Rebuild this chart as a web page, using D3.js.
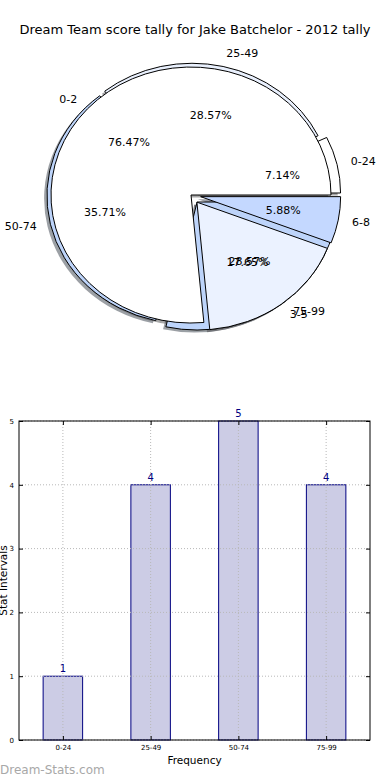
<!DOCTYPE html>
<html>
<head>
<meta charset="utf-8">
<script src="https://cdn.jsdelivr.net/npm/d3@7"></script>
<style>
  body { margin: 0; background: #fff; }
  svg { display: block; font-family: "DejaVu Sans", sans-serif; }
</style>
</head>
<body>
<div id="chart"></div>
<script>
const chartTitle = "Dream Team score tally for Jake Batchelor - 2012 tally";

// outer pie: score bands
const scoreBands = ["0-24", "25-49", "50-74", "75-99"];
const scoreCounts = [1, 4, 5, 4];
const scoreExplode = [0.07, 0.03, 0.03, 0.07];
const scoreColours = ["#ffffff", "#e9f0fd", "#bdd4fa", "#bdd4fa"];

// second pie drawn on top
const smallBands = ["0-2", "3-5", "6-8"];
const smallCounts = [13, 3, 1];
const smallExplode = [0, 0.07, 0.07];
const smallColours = ["#ffffff", "#ebf2ff", "#c4d8ff"];

// histogram
const barBands = ["0-24", "25-49", "50-74", "75-99"];
const barCounts = [1, 4, 5, 4];
const yTicks = [0, 1, 2, 3, 4, 5];

const W = 390, H = 780;
const cx = 191, cy = 195, rx = 140, ry = 128;

const svg = d3.select("#chart").append("svg")
  .attr("width", W).attr("height", H);

svg.append("text")
  .attr("x", 195).attr("y", 30)
  .attr("text-anchor", "middle").attr("dominant-baseline", "middle")
  .style("font-size", "13px").attr("fill", "#000")
  .text(chartTitle);

const defs = svg.append("defs");
defs.append("filter").attr("id", "soft")
  .append("feGaussianBlur").attr("stdDeviation", 0.7);

const unitArc = d3.arc().innerRadius(0).outerRadius(1);

function pieSlices(names, counts, explode, colours) {
  // matplotlib style: start at 3 o'clock, counter-clockwise
  const arcs = d3.pie().sort(null)
    .startAngle(Math.PI / 2)
    .endAngle(Math.PI / 2 - 2 * Math.PI)(counts);
  const total = d3.sum(counts);
  return arcs.map((a, i) => {
    const mid = (a.startAngle + a.endAngle) / 2;
    const ux = Math.sin(mid), uy = -Math.cos(mid);
    return {
      arc: a,
      name: names[i],
      pct: (100 * counts[i] / total).toFixed(2) + "%",
      colour: colours[i],
      ux, uy,
      ox: cx + explode[i] * rx * ux,
      oy: cy + explode[i] * ry * uy,
    };
  });
}

const pieA = pieSlices(scoreBands, scoreCounts, scoreExplode, scoreColours);
const pieB = pieSlices(smallBands, smallCounts, smallExplode, smallColours);

const shadowLayer = svg.append("g").attr("filter", "url(#soft)");
[...pieA, ...pieB].forEach((s) => {
  const c = d3.rgb(s.colour);
  shadowLayer.append("path")
    .attr("transform", `translate(${s.ox - 0.02 * rx},${s.oy + 0.02 * ry}) scale(${rx},${ry})`)
    .attr("d", unitArc(s.arc))
    .attr("fill", d3.rgb(c.r * 0.3, c.g * 0.3, c.b * 0.3))
    .attr("opacity", 0.5);
});

function drawWedges(slices) {
  const g = svg.append("g");
  g.selectAll("path").data(slices).join("path")
    .attr("transform", (d) => `translate(${d.ox},${d.oy}) scale(${rx},${ry})`)
    .attr("d", (d) => unitArc(d.arc))
    .attr("fill", (d) => d.colour)
    .attr("stroke", "#000")
    .attr("stroke-width", 1)
    .attr("stroke-linejoin", "miter")
    .attr("vector-effect", "non-scaling-stroke");
}
drawWedges(pieA);
drawWedges(pieB);

function drawPieText(slices) {
  const g = svg.append("g").style("font-size", "11px").attr("fill", "#000");
  slices.forEach((d) => {
    const lx = d.ox + 1.1 * rx * d.ux;
    g.append("text")
      .attr("x", lx).attr("y", d.oy + 1.1 * ry * d.uy)
      .attr("text-anchor", lx > cx ? "start" : "end")
      .attr("dominant-baseline", "middle")
      .text(d.name);
    g.append("text")
      .attr("x", d.ox + 0.6 * rx * d.ux).attr("y", d.oy + 0.6 * ry * d.uy)
      .attr("text-anchor", "middle")
      .attr("dominant-baseline", "middle")
      .text(d.pct);
  });
}
drawPieText(pieA);
drawPieText(pieB);

// ---- bar chart ----
const plotL = 19, plotR = 370, plotT = 421, plotB = 740;
const x = d3.scaleBand().domain(barBands).range([plotL, plotR]);
const y = d3.scaleLinear().domain([0, 5]).range([plotB, plotT]);
const bw = x.bandwidth() * 0.45;
const centre = (d) => x(d) + x.bandwidth() / 2;

function drawGrid() {
  const grid = svg.append("g")
    .attr("stroke", "#b8b8b8").attr("stroke-dasharray", "1,2").attr("stroke-width", 1);
  grid.selectAll(".gx").data(barBands).join("line").attr("class", "gx")
    .attr("x1", centre).attr("x2", centre)
    .attr("y1", plotT).attr("y2", plotB);
  grid.selectAll(".gy").data(yTicks).join("line").attr("class", "gy")
    .attr("x1", plotL).attr("x2", plotR)
    .attr("y1", (d) => y(d)).attr("y2", (d) => y(d));
}

svg.append("g").selectAll("rect").data(barCounts).join("rect")
  .attr("x", (d, i) => centre(barBands[i]) - bw / 2)
  .attr("y", (d) => y(d))
  .attr("width", bw)
  .attr("height", (d) => plotB - y(d))
  .attr("fill", "#ccccE5")
  .attr("stroke", "#000080")
  .attr("stroke-width", 1);

// grid shows through bars in the reference
drawGrid();

svg.append("g").selectAll("text").data(barCounts).join("text")
  .attr("x", (d, i) => centre(barBands[i]))
  .attr("y", (d) => y(d) - 4)
  .attr("text-anchor", "middle")
  .attr("fill", "#000080")
  .style("font-size", "10px")
  .text((d) => d);

const xPos = d3.scalePoint().domain(barBands)
  .range([centre(barBands[0]), centre(barBands[barBands.length - 1])]);

const axL = svg.append("g").attr("transform", `translate(${plotL},0)`)
  .call(d3.axisLeft(y).tickValues(yTicks).tickFormat(d3.format("d")).tickSize(-4).tickPadding(5));
const axB = svg.append("g").attr("transform", `translate(0,${plotB})`)
  .call(d3.axisBottom(xPos).tickSize(-4).tickPadding(5));
const axT = svg.append("g").attr("transform", `translate(0,${plotT})`)
  .call(d3.axisTop(xPos).tickSize(-4).tickFormat(""));
const axR = svg.append("g").attr("transform", `translate(${plotR},0)`)
  .call(d3.axisRight(y).tickValues(yTicks).tickSize(-4).tickFormat(""));
[axL, axB, axT, axR].forEach((a) => {
  a.select(".domain").remove();
  a.selectAll("text").style("font-size", "7px").style("font-family", "DejaVu Sans").attr("fill", "#000");
  a.selectAll("line").attr("stroke", "#000");
});

svg.append("rect")
  .attr("x", plotL).attr("y", plotT)
  .attr("width", plotR - plotL).attr("height", plotB - plotT)
  .attr("fill", "none").attr("stroke", "#000").attr("stroke-width", 1);

svg.append("text")
  .attr("x", (plotL + plotR) / 2).attr("y", 764)
  .attr("text-anchor", "middle")
  .style("font-size", "10.5px")
  .text("Frequency");

svg.append("text")
  .attr("transform", `translate(7,${(plotT + plotB) / 2}) rotate(-90)`)
  .attr("text-anchor", "middle")
  .style("font-size", "10.5px")
  .text("Stat Intervals");

svg.append("text")
  .attr("x", 0).attr("y", 774)
  .attr("fill", "#a8a8a8")
  .style("font-size", "12px")
  .text("Dream-Stats.com");
</script>
</body>
</html>
